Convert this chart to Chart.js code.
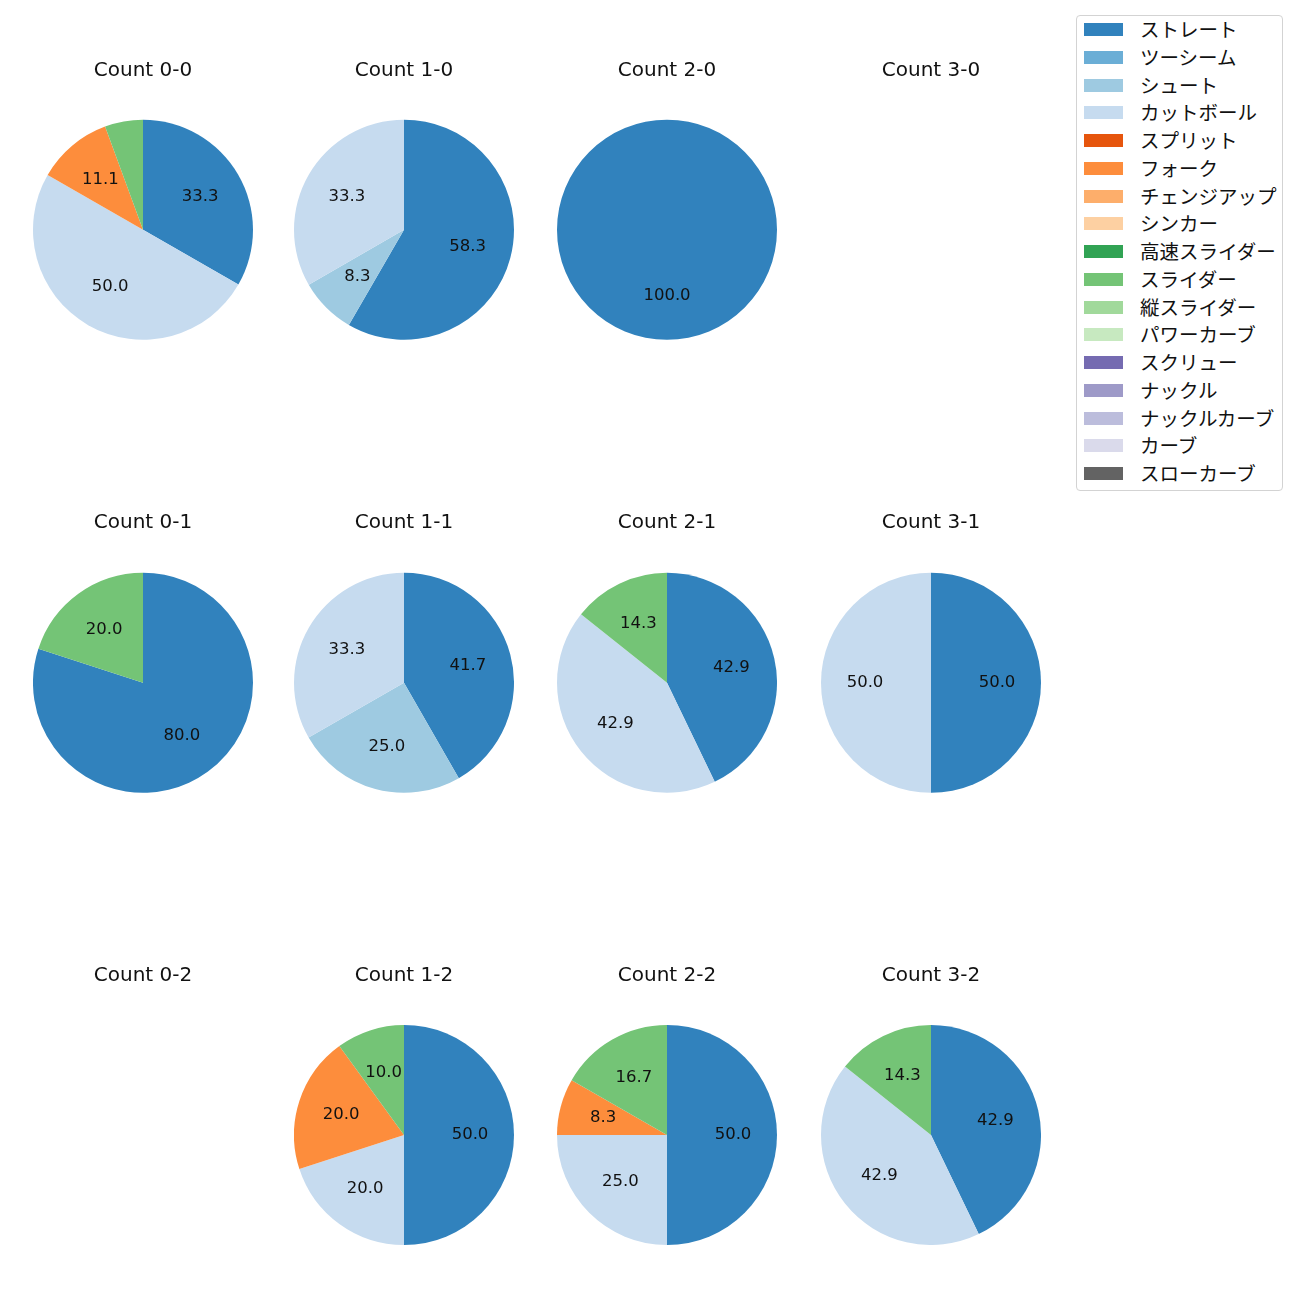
<!DOCTYPE html>
<html>
<head>
<meta charset="utf-8">
<script src="https://cdn.jsdelivr.net/npm/chart.js@4.4.1/dist/chart.umd.min.js"></script>
<style>
  body { margin: 0; background: #fff; font-family: "Noto Sans CJK JP", sans-serif; }
  #page { position: relative; width: 1300px; height: 1300px; }
  canvas { position: absolute; }
  #legend { position: absolute; left: 1076px; top: 15px; width: 205px; height: 474px;
            border: 1px solid #d3d3d3; border-radius: 4px; background: #fff; }
  .item { position: absolute; left: 0; height: 28px; width: 205px; }
  .patch { position: absolute; left: 7px; top: 7px; width: 39px; height: 13px; }
  .name { position: absolute; left: 63px; top: -1px; line-height: 28px; font-size: 19.5px; color: #111; white-space: nowrap; }
</style>
</head>
<body>
<div id="page"><div id="legend"></div></div>
<script>
// pitch types and their colours (legend order = slice order)
const pitchTypes = ['ストレート', 'ツーシーム', 'シュート', 'カットボール', 'スプリット', 'フォーク',
  'チェンジアップ', 'シンカー', '高速スライダー', 'スライダー', '縦スライダー', 'パワーカーブ',
  'スクリュー', 'ナックル', 'ナックルカーブ', 'カーブ', 'スローカーブ'];
const pitchColors = ['#3182bd', '#6baed6', '#9ecae1', '#c6dbef', '#e6550d', '#fd8d3c',
  '#fdae6b', '#fdd0a2', '#31a354', '#74c476', '#a1d99b', '#c7e9c0',
  '#756bb1', '#9e9ac8', '#bcbddc', '#dadaeb', '#636363'];

const counts = ['0-0', '1-0', '2-0', '3-0', '0-1', '1-1', '2-1', '3-1', '0-2', '1-2', '2-2', '3-2'];

// share (%) per pitch type, same order as pitchTypes
const count00 = [33.3, 0, 0, 50.0, 0, 11.1, 0, 0, 0, 5.6, 0, 0, 0, 0, 0, 0, 0];
const count10 = [58.3, 0, 8.3, 33.3, 0, 0, 0, 0, 0, 0, 0, 0, 0, 0, 0, 0, 0];
const count20 = [100.0, 0, 0, 0, 0, 0, 0, 0, 0, 0, 0, 0, 0, 0, 0, 0, 0];
const count30 = [0, 0, 0, 0, 0, 0, 0, 0, 0, 0, 0, 0, 0, 0, 0, 0, 0];
const count01 = [80.0, 0, 0, 0, 0, 0, 0, 0, 0, 20.0, 0, 0, 0, 0, 0, 0, 0];
const count11 = [41.7, 0, 25.0, 33.3, 0, 0, 0, 0, 0, 0, 0, 0, 0, 0, 0, 0, 0];
const count21 = [42.9, 0, 0, 42.9, 0, 0, 0, 0, 0, 14.3, 0, 0, 0, 0, 0, 0, 0];
const count31 = [50.0, 0, 0, 50.0, 0, 0, 0, 0, 0, 0, 0, 0, 0, 0, 0, 0, 0];
const count02 = [0, 0, 0, 0, 0, 0, 0, 0, 0, 0, 0, 0, 0, 0, 0, 0, 0];
const count12 = [50.0, 0, 0, 20.0, 0, 20.0, 0, 0, 0, 10.0, 0, 0, 0, 0, 0, 0, 0];
const count22 = [50.0, 0, 0, 25.0, 0, 8.3, 0, 0, 0, 16.7, 0, 0, 0, 0, 0, 0, 0];
const count32 = [42.9, 0, 0, 42.9, 0, 0, 0, 0, 0, 14.3, 0, 0, 0, 0, 0, 0, 0];

const countValues = [count00, count10, count20, count30, count01, count11, count21, count31,
  count02, count12, count22, count32];

// grid geometry
const colX = [142.5, 403.5, 667, 930.5];
const rowY = [229.5, 682.5, 1135];
const titleY = [71, 523, 976];
const R = 110;
const titleSize = 20;
const titleLine = titleSize * 1.2;
const latinFont = '"DejaVu Sans", "Noto Sans CJK JP", sans-serif';

// percentage labels at 0.6 of the radius
const pctLabels = {
  id: 'pctLabels',
  afterDatasetsDraw(chart) {
    const ctx = chart.ctx;
    const data = chart.data.datasets[0].data;
    chart.getDatasetMeta(0).data.forEach((arc, i) => {
      const v = data[i];
      if (!v || v < 7) return;
      const mid = (arc.startAngle + arc.endAngle) / 2;
      const x = arc.x + Math.cos(mid) * arc.outerRadius * 0.6;
      const y = arc.y + Math.sin(mid) * arc.outerRadius * 0.6;
      ctx.save();
      ctx.font = '16.5px ' + latinFont;
      ctx.fillStyle = '#111';
      ctx.textAlign = 'center';
      ctx.textBaseline = 'middle';
      ctx.fillText(v.toFixed(1), x, y);
      ctx.restore();
    });
  }
};

const page = document.getElementById('page');
counts.forEach((c, k) => {
  const col = k % 4, row = Math.floor(k / 4);
  const top = titleY[row] - titleLine / 2;
  const pad = rowY[row] - R - top - titleLine;
  const cv = document.createElement('canvas');
  cv.width = 2 * R;
  cv.height = Math.round(titleLine + pad + 2 * R);
  cv.style.left = (colX[col] - R) + 'px';
  cv.style.top = top + 'px';
  page.appendChild(cv);
  new Chart(cv.getContext('2d'), {
    type: 'pie',
    data: {
      labels: pitchTypes,
      datasets: [{
        data: countValues[k],
        backgroundColor: pitchColors,
        borderWidth: 0
      }]
    },
    options: {
      responsive: false,
      animation: false,
      layout: { padding: 0 },
      plugins: {
        legend: { display: false },
        tooltip: { enabled: false },
        title: {
          display: true,
          text: 'Count ' + c,
          color: '#111',
          font: { family: latinFont, size: titleSize, weight: 'normal' },
          padding: { top: 0, bottom: pad }
        }
      }
    },
    plugins: [pctLabels]
  });
});

// legend
const legend = document.getElementById('legend');
pitchTypes.forEach((name, i) => {
  const item = document.createElement('div');
  item.className = 'item';
  item.style.top = (i * 27.75) + 'px';
  const patch = document.createElement('span');
  patch.className = 'patch';
  patch.style.background = pitchColors[i];
  const label = document.createElement('span');
  label.className = 'name';
  label.textContent = name;
  item.appendChild(patch);
  item.appendChild(label);
  legend.appendChild(item);
});
</script>
</body>
</html>
